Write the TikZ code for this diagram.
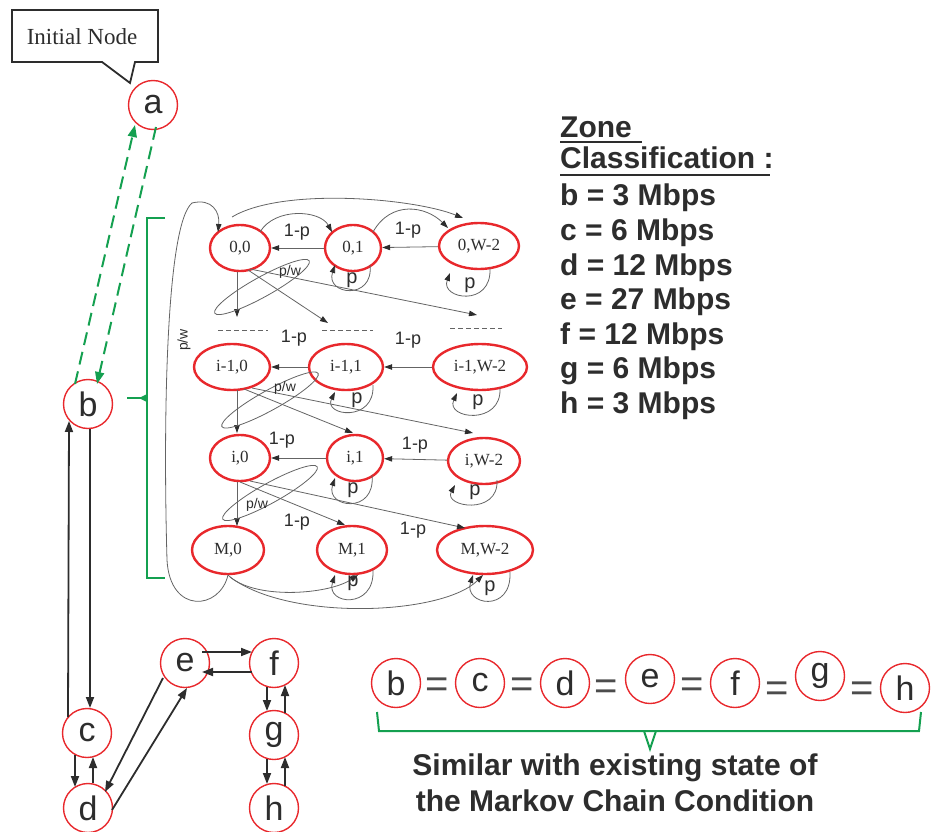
\documentclass[tikz,border=0pt]{standalone}
\usepackage{fontspec}
\setmainfont{Liberation Serif}
\newfontfamily\arial{Liberation Sans}
\usetikzlibrary{arrows.meta,shapes.geometric,calc}
\definecolor{myred}{RGB}{232,40,44}
\definecolor{mygreen}{RGB}{20,160,80}
\definecolor{txt}{RGB}{45,45,45}
\definecolor{edgec}{RGB}{100,100,100}
\begin{document}
\begin{tikzpicture}[x=1pt,y=-1pt,
 letnode/.style={circle,draw=myred,line width=1.4pt,minimum size=49pt,inner sep=0pt,text=txt,font=\arial\fontsize{34}{36}\selectfont},
 stnode/.style={ellipse,draw=myred,line width=2.4pt,inner sep=0pt,text=txt,font=\fontsize{17}{18}\selectfont},
 ce/.style={draw=edgec,line width=0.8pt,-{Triangle[length=8pt,width=5.5pt,color=txt]}},
 loopc/.style={draw=edgec,line width=0.8pt},
 lab/.style={font=\arial\fontsize{18}{19}\selectfont,text=txt,inner sep=0pt},
 plab/.style={font=\arial\fontsize{20}{21}\selectfont,text=txt,inner sep=0pt},
 pwl/.style={font=\arial\fontsize{14}{15}\selectfont,text=txt,inner sep=0pt},
 ba/.style={draw=txt,line width=1.8pt,-{Triangle[length=11pt,width=8pt]}},
 ga/.style={draw=mygreen,line width=2pt,dash pattern=on 13pt off 7pt,-{Triangle[length=12pt,width=9pt]}},
 zt/.style={anchor=base west,font=\arial\bfseries\fontsize{30}{32}\selectfont,text=txt,inner sep=0pt},
 st/.style={anchor=center,font=\arial\bfseries\fontsize{30}{32}\selectfont,text=txt,inner sep=0pt},
 eqs/.style={font=\arial\fontsize{40}{42}\selectfont,text=txt!85,inner sep=0pt},
]
\useasboundingbox (0,0) rectangle (931,832);

% ---------- callout ----------
\draw[draw=txt,line width=1.8pt,fill=white] (12,10) -- (158,10) -- (158,62) -- (135,62) -- (130,83) -- (102,62) -- (12,62) -- cycle;
\node[font=\fontsize{23}{24}\selectfont,text=txt] (callout) at (82,37) {Initial Node};

% ---------- left graph ----------
\node[letnode] (a) at (153,105) {a};
\node[letnode] (b) at (88,404) {b};
\node[letnode] (c) at (87,733) {c};
\node[letnode] (d) at (88,808) {d};
\node[letnode] (e) at (185,663) {e};
\node[letnode] (f) at (274,663) {f};
\node[letnode] (g) at (274,735) {g};
\node[letnode] (h) at (274,808) {h};

\draw[ga] ($(a)+(3,22)$) -- ($(b)+(9,-20)$);
\draw[ga] ($(b)+(-13,-20)$) -- ($(a)+(-18,20)$);

\draw[ba] ($(b)+(2,25)$) -- ($(c)+(3,-25)$);
\draw[ba] ($(c)+(-19,-16)$) -- ($(b)+(-19,17)$);
\draw[ba] ($(c)+(-12,22)$) -- ($(d)+(-13,-21)$);
\draw[ba] ($(d)+(5,-25)$) -- ($(c)+(6,24)$);
\draw[ba] ($(e)+(-22,15)$) -- ($(d)+(17,-16)$);
\draw[ba] ($(d)+(24,2)$) -- ($(e)+(2,25)$);
\draw[ba] ($(e)+(17,-11)$) -- ($(f)+(-22,-11)$);
\draw[ba] ($(f)+(-22,9)$) -- ($(e)+(17,9)$);
\draw[ba] ($(f)+(-7,24)$) -- ($(g)+(-7,-24)$);
\draw[ba] ($(g)+(11,-22)$) -- ($(f)+(11,22)$);
\draw[ba] ($(g)+(-7,24)$) -- ($(h)+(-7,-24)$);
\draw[ba] ($(h)+(11,-22)$) -- ($(g)+(11,22)$);

% green bracket
\draw[mygreen,line width=2pt] (165,218) -- (147,218) -- (147,578) -- (165,578);
\draw[mygreen,line width=2pt] (127,398) -- (147,398);
\fill[mygreen] (147,394) -- (139,398) -- (147,402) -- cycle;

% ---------- Markov chain ----------
\node[stnode,minimum width=60pt,minimum height=46pt] (n00) at (240,248) {0,0};
\node[stnode,minimum width=56pt,minimum height=46pt] (n01) at (353,248) {0,1};
\node[stnode,minimum width=80pt,minimum height=46pt] (n0W) at (479,246) {0,W-2};
\node[stnode,minimum width=76pt,minimum height=46pt] (n10) at (232,367) {i-1,0};
\node[stnode,minimum width=74pt,minimum height=46pt] (n11) at (346,367) {i-1,1};
\node[stnode,minimum width=94pt,minimum height=46pt] (n1W) at (480,367) {i-1,W-2};
\node[stnode,minimum width=60pt,minimum height=46pt] (n20) at (240,458) {i,0};
\node[stnode,minimum width=56pt,minimum height=46pt] (n21) at (355,458) {i,1};
\node[stnode,minimum width=72pt,minimum height=46pt] (n2W) at (484,461) {\raisebox{-3pt}{i,W-2}};
\node[stnode,minimum width=72pt,minimum height=48pt] (n30) at (228,550) {M,0};
\node[stnode,minimum width=70pt,minimum height=48pt] (n31) at (352,550) {M,1};
\node[stnode,minimum width=96pt,minimum height=48pt] (n3W) at (485,550) {M,W-2};

% horizontal arrows
\draw[ce] (n01) -- (n00);
\draw[ce] (n0W) -- (n01);
\draw[ce] (n11) -- (n10);
\draw[ce] (n1W) -- (n11);
\draw[ce] (n21) -- (n20);
\draw[ce] (n2W) -- (n21);

% top curves row 0
\draw[ce] ($(n00)+(20,-16)$) .. controls +(15,-25) and +(-12,-22) .. ($(n01)+(-21,-16)$);
\draw[ce] ($(n01)+(20,-16)$) .. controls +(18,-32) and +(-22,-22) .. ($(n0W)+(-31,-18)$);
\draw[ce] ($(n00)+(-8,-31)$) .. controls +(50,-30) and +(-50,-20) .. ($(n0W)+(-16,-28)$);

% big left loop M,0 -> 0,0
\draw[ce] ($(n30)+(0,25)$) .. controls +(-8,35) and +(3,55) .. (167,560)
  .. controls (163,420) and (166,225) .. (192,203)
  .. controls (212,198) and (220,212) .. ($(n00)+(-22,-16)$);
\node[pwl,rotate=90] (pwbig) at (184,340) {p/w};

% self loops
\draw[ce] ($(n01)+(17,17)$) .. controls +(4,36) and +(-10,30) .. ($(n01)+(-18,17)$);
\draw[ce] ($(n0W)+(11,22)$) .. controls +(2,40) and +(-10,26) .. ($(n0W)+(-29,27)$);
\draw[ce] ($(n11)+(27,18)$) .. controls +(2,38) and +(-12,24) .. ($(n11)+(-11,25)$);
\draw[ce] ($(n1W)+(20,21)$) .. controls +(2,38) and +(-12,26) .. ($(n1W)+(-23,26)$);
\draw[ce] ($(n21)+(17,17)$) .. controls +(4,40) and +(-10,30) .. ($(n21)+(-20,20)$);
\draw[ce] ($(n2W)+(13,19)$) .. controls +(2,36) and +(-12,22) .. ($(n2W)+(-29,24)$);
\draw[ce] ($(n31)+(21,20)$) .. controls +(2,40) and +(-10,30) .. ($(n31)+(-17,25)$);
\draw[ce] ($(n3W)+(25,22)$) .. controls +(2,42) and +(-10,30) .. ($(n3W)+(-12,25)$);

% row 0 downward
\coordinate (t0a) at (237,317);
\coordinate (t0b) at (328,323);
\coordinate (t0c) at (477,315);
\draw[ce] ($(n00)+(-3,24)$) -- (t0a);
\draw[ce] ($(n00)+(8,22)$) -- (t0b);
\draw[ce] ($(n00)+(10,21)$) -- (t0c);
\draw[loopc,rotate around={29:(262,287)}] (262,287) ellipse [x radius=54, y radius=10];

% dashed separators
\draw[edgec,line width=0.8pt,dash pattern=on 5pt off 3pt] (218,330) -- (268,330);
\draw[edgec,line width=0.8pt,dash pattern=on 5pt off 3pt] (322,330) -- (373,330);
\draw[edgec,line width=0.8pt,dash pattern=on 5pt off 3pt] (450,328) -- (502,328);

% row 1 downward
\draw[ce] ($(n10)+(5,23)$) -- ($(n20)+(-3,-25)$);
\draw[ce] ($(n10)+(12,22)$) -- ($(n21)+(-2,-25)$);
\draw[ce] ($(n10)+(20,21)$) -- ($(n2W)+(-11,-28)$);
\draw[loopc,rotate around={29:(270,400)}] (270,400) ellipse [x radius=55, y radius=10];

% row 2 downward
\draw[ce] ($(n20)+(-3,24)$) -- ($(n30)+(9,-24)$);
\draw[ce] ($(n20)+(0,24)$) -- ($(n31)+(-7,-25)$);
\draw[ce] ($(n20)+(10,23)$) -- ($(n3W)+(-20,-22)$);
\draw[loopc,rotate around={29:(270,493)}] (270,493) ellipse [x radius=54, y radius=10];

% row 3 bottom curves
\draw[ce] ($(n30)+(0,25)$) .. controls +(25,25) and +(-30,20) .. ($(n31)+(6,25)$);
\draw[ce] ($(n30)+(2,27)$) .. controls +(60,45) and +(-40,40) .. ($(n3W)+(-2,25)$);

% labels
\node[lab] (l1) at (297,232) {1-p};
\node[lab] (l2) at (408,230) {1-p};
\node[lab] (l3) at (294,338) {1-p};
\node[lab] (l4) at (408,340) {1-p};
\node[lab] (l5) at (282,440) {1-p};
\node[lab] (l6) at (415,445) {1-p};
\node[lab] (l7) at (297,522) {1-p};
\node[lab] (l8) at (413,530) {1-p};
\node[pwl] (pw1) at (290,272) {p/w};
\node[pwl] (pw2) at (285,388) {p/w};
\node[pwl] (pw3) at (257,505) {p/w};
\node[plab] (p1) at (352,280) {p};
\node[plab] (p2) at (470,285) {p};
\node[plab] (p3) at (357,400) {p};
\node[plab] (p4) at (478,402) {p};
\node[plab] (p5) at (353,490) {p};
\node[plab] (p6) at (475,492) {p};
\node[plab] (p7) at (353,583) {p};
\node[plab] (p8) at (490,588) {p};

% ---------- zone classification ----------
\node[zt] (z1) at (560,137) {Zone};
\node[zt] (z2) at (560,168) {Classification :};
\draw[txt,line width=2.2pt] (560,142) -- (642,142);
\draw[txt,line width=2.2pt] (560,175) -- (770,175);
\node[zt] (z3) at (560,205) {b = 3 Mbps};
\node[zt] (z4) at (560,240) {c = 6 Mbps};
\node[zt] (z5) at (560,275) {d = 12 Mbps};
\node[zt] (z6) at (560,309) {e = 27 Mbps};
\node[zt] (z7) at (560,344) {f = 12 Mbps};
\node[zt] (z8) at (560,378) {g = 6 Mbps};
\node[zt] (z9) at (560,413) {h = 3 Mbps};

% ---------- bottom equality row ----------
\node[letnode] (rb) at (396,683) {b};
\node[letnode] (rc) at (480,683) {c};
\node[letnode] (rd) at (565,683) {d};
\node[letnode] (re) at (650,679) {e};
\node[letnode] (rf) at (735,683) {f};
\node[letnode] (rg) at (820,676) {g};
\node[letnode] (rh) at (905,688) {h};
\node[eqs] (q1) at (437,688) {=};
\node[eqs] (q2) at (522,688) {=};
\node[eqs] (q3) at (606,690) {=};
\node[eqs] (q4) at (692,688) {=};
\node[eqs] (q5) at (777,692) {=};
\node[eqs] (q6) at (862,692) {=};

\draw[mygreen,line width=2pt] (377,712) -- (379,731) -- (919,731) -- (921,712);
\draw[mygreen,line width=2pt] (644,731) -- (650,749) -- (656,731);

\node[st] (s1) at (615,768) {Similar with existing state of};
\node[st] (s2) at (615,801) {the Markov Chain Condition};
\end{tikzpicture}
\end{document}
